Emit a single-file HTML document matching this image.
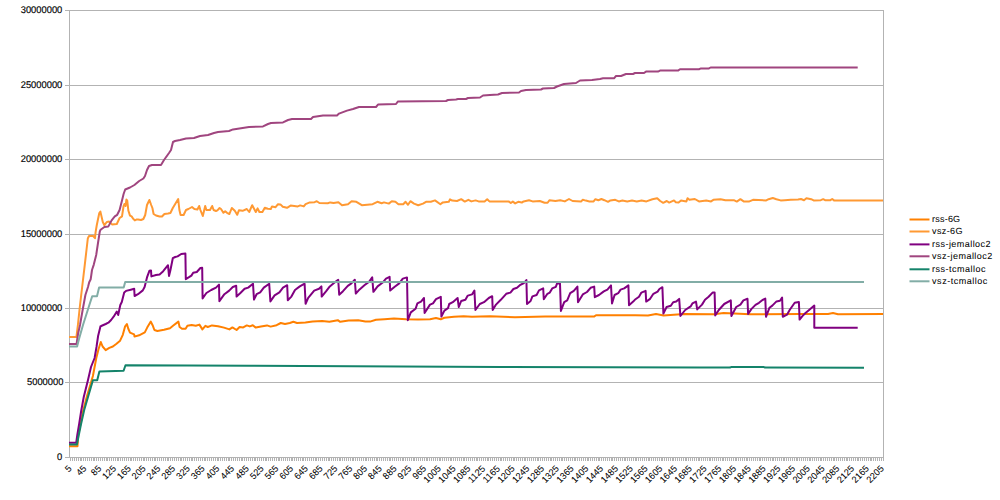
<!DOCTYPE html><html><head><meta charset="utf-8"><title>chart</title><style>html,body{margin:0;padding:0;background:#fff;width:1000px;height:500px;overflow:hidden}svg{display:block}text{font-family:"Liberation Sans", "DejaVu Sans", sans-serif;fill:#000;text-rendering:geometricPrecision}</style></head><body>
<svg width="1000" height="500" viewBox="0 0 1000 500" shape-rendering="crispEdges">
<rect x="0" y="0" width="1000" height="500" fill="#fff"/>
<rect x="65" y="10" width="819" height="1" fill="#b3b3b3"/>
<rect x="65" y="85" width="819" height="1" fill="#b3b3b3"/>
<rect x="65" y="159" width="819" height="1" fill="#b3b3b3"/>
<rect x="65" y="234" width="819" height="1" fill="#b3b3b3"/>
<rect x="65" y="308" width="819" height="1" fill="#b3b3b3"/>
<rect x="65" y="382" width="819" height="1" fill="#b3b3b3"/>
<rect x="65" y="457" width="819" height="1" fill="#b3b3b3"/>
<rect x="69" y="10" width="1" height="448" fill="#b3b3b3"/>
<rect x="883" y="10" width="1" height="451" fill="#b3b3b3"/>
<path d="M70 458h1v3h-1zM72 458h1v3h-1zM74 458h1v3h-1zM76 458h1v3h-1zM78 458h1v3h-1zM80 458h1v3h-1zM81 458h1v3h-1zM83 458h1v3h-1zM85 458h1v3h-1zM87 458h1v3h-1zM89 458h1v3h-1zM91 458h1v3h-1zM93 458h1v3h-1zM94 458h1v3h-1zM96 458h1v3h-1zM98 458h1v3h-1zM100 458h1v3h-1zM102 458h1v3h-1zM104 458h1v3h-1zM106 458h1v3h-1zM107 458h1v3h-1zM109 458h1v3h-1zM111 458h1v3h-1zM113 458h1v3h-1zM115 458h1v3h-1zM117 458h1v3h-1zM118 458h1v3h-1zM120 458h1v3h-1zM122 458h1v3h-1zM124 458h1v3h-1zM126 458h1v3h-1zM128 458h1v3h-1zM130 458h1v3h-1zM131 458h1v3h-1zM133 458h1v3h-1zM135 458h1v3h-1zM137 458h1v3h-1zM139 458h1v3h-1zM141 458h1v3h-1zM143 458h1v3h-1zM144 458h1v3h-1zM146 458h1v3h-1zM148 458h1v3h-1zM150 458h1v3h-1zM152 458h1v3h-1zM154 458h1v3h-1zM155 458h1v3h-1zM157 458h1v3h-1zM159 458h1v3h-1zM161 458h1v3h-1zM163 458h1v3h-1zM165 458h1v3h-1zM167 458h1v3h-1zM168 458h1v3h-1zM170 458h1v3h-1zM172 458h1v3h-1zM174 458h1v3h-1zM176 458h1v3h-1zM178 458h1v3h-1zM180 458h1v3h-1zM181 458h1v3h-1zM183 458h1v3h-1zM185 458h1v3h-1zM187 458h1v3h-1zM189 458h1v3h-1zM191 458h1v3h-1zM192 458h1v3h-1zM194 458h1v3h-1zM196 458h1v3h-1zM198 458h1v3h-1zM200 458h1v3h-1zM202 458h1v3h-1zM204 458h1v3h-1zM205 458h1v3h-1zM207 458h1v3h-1zM209 458h1v3h-1zM211 458h1v3h-1zM213 458h1v3h-1zM215 458h1v3h-1zM217 458h1v3h-1zM218 458h1v3h-1zM220 458h1v3h-1zM222 458h1v3h-1zM224 458h1v3h-1zM226 458h1v3h-1zM228 458h1v3h-1zM229 458h1v3h-1zM231 458h1v3h-1zM233 458h1v3h-1zM235 458h1v3h-1zM237 458h1v3h-1zM239 458h1v3h-1zM241 458h1v3h-1zM242 458h1v3h-1zM244 458h1v3h-1zM246 458h1v3h-1zM248 458h1v3h-1zM250 458h1v3h-1zM252 458h1v3h-1zM254 458h1v3h-1zM255 458h1v3h-1zM257 458h1v3h-1zM259 458h1v3h-1zM261 458h1v3h-1zM263 458h1v3h-1zM265 458h1v3h-1zM266 458h1v3h-1zM268 458h1v3h-1zM270 458h1v3h-1zM272 458h1v3h-1zM274 458h1v3h-1zM276 458h1v3h-1zM278 458h1v3h-1zM279 458h1v3h-1zM281 458h1v3h-1zM283 458h1v3h-1zM285 458h1v3h-1zM287 458h1v3h-1zM289 458h1v3h-1zM291 458h1v3h-1zM292 458h1v3h-1zM294 458h1v3h-1zM296 458h1v3h-1zM298 458h1v3h-1zM300 458h1v3h-1zM302 458h1v3h-1zM303 458h1v3h-1zM305 458h1v3h-1zM307 458h1v3h-1zM309 458h1v3h-1zM311 458h1v3h-1zM313 458h1v3h-1zM315 458h1v3h-1zM316 458h1v3h-1zM318 458h1v3h-1zM320 458h1v3h-1zM322 458h1v3h-1zM324 458h1v3h-1zM326 458h1v3h-1zM328 458h1v3h-1zM329 458h1v3h-1zM331 458h1v3h-1zM333 458h1v3h-1zM335 458h1v3h-1zM337 458h1v3h-1zM339 458h1v3h-1zM340 458h1v3h-1zM342 458h1v3h-1zM344 458h1v3h-1zM346 458h1v3h-1zM348 458h1v3h-1zM350 458h1v3h-1zM352 458h1v3h-1zM353 458h1v3h-1zM355 458h1v3h-1zM357 458h1v3h-1zM359 458h1v3h-1zM361 458h1v3h-1zM363 458h1v3h-1zM365 458h1v3h-1zM366 458h1v3h-1zM368 458h1v3h-1zM370 458h1v3h-1zM372 458h1v3h-1zM374 458h1v3h-1zM376 458h1v3h-1zM377 458h1v3h-1zM379 458h1v3h-1zM381 458h1v3h-1zM383 458h1v3h-1zM385 458h1v3h-1zM387 458h1v3h-1zM389 458h1v3h-1zM390 458h1v3h-1zM392 458h1v3h-1zM394 458h1v3h-1zM396 458h1v3h-1zM398 458h1v3h-1zM400 458h1v3h-1zM402 458h1v3h-1zM403 458h1v3h-1zM405 458h1v3h-1zM407 458h1v3h-1zM409 458h1v3h-1zM411 458h1v3h-1zM413 458h1v3h-1zM414 458h1v3h-1zM416 458h1v3h-1zM418 458h1v3h-1zM420 458h1v3h-1zM422 458h1v3h-1zM424 458h1v3h-1zM426 458h1v3h-1zM427 458h1v3h-1zM429 458h1v3h-1zM431 458h1v3h-1zM433 458h1v3h-1zM435 458h1v3h-1zM437 458h1v3h-1zM439 458h1v3h-1zM440 458h1v3h-1zM442 458h1v3h-1zM444 458h1v3h-1zM446 458h1v3h-1zM448 458h1v3h-1zM450 458h1v3h-1zM451 458h1v3h-1zM453 458h1v3h-1zM455 458h1v3h-1zM457 458h1v3h-1zM459 458h1v3h-1zM461 458h1v3h-1zM463 458h1v3h-1zM464 458h1v3h-1zM466 458h1v3h-1zM468 458h1v3h-1zM470 458h1v3h-1zM472 458h1v3h-1zM474 458h1v3h-1zM476 458h1v3h-1zM477 458h1v3h-1zM479 458h1v3h-1zM481 458h1v3h-1zM483 458h1v3h-1zM485 458h1v3h-1zM487 458h1v3h-1zM488 458h1v3h-1zM490 458h1v3h-1zM492 458h1v3h-1zM494 458h1v3h-1zM496 458h1v3h-1zM498 458h1v3h-1zM500 458h1v3h-1zM501 458h1v3h-1zM503 458h1v3h-1zM505 458h1v3h-1zM507 458h1v3h-1zM509 458h1v3h-1zM511 458h1v3h-1zM513 458h1v3h-1zM514 458h1v3h-1zM516 458h1v3h-1zM518 458h1v3h-1zM520 458h1v3h-1zM522 458h1v3h-1zM524 458h1v3h-1zM525 458h1v3h-1zM527 458h1v3h-1zM529 458h1v3h-1zM531 458h1v3h-1zM533 458h1v3h-1zM535 458h1v3h-1zM537 458h1v3h-1zM538 458h1v3h-1zM540 458h1v3h-1zM542 458h1v3h-1zM544 458h1v3h-1zM546 458h1v3h-1zM548 458h1v3h-1zM550 458h1v3h-1zM551 458h1v3h-1zM553 458h1v3h-1zM555 458h1v3h-1zM557 458h1v3h-1zM559 458h1v3h-1zM561 458h1v3h-1zM562 458h1v3h-1zM564 458h1v3h-1zM566 458h1v3h-1zM568 458h1v3h-1zM570 458h1v3h-1zM572 458h1v3h-1zM574 458h1v3h-1zM575 458h1v3h-1zM577 458h1v3h-1zM579 458h1v3h-1zM581 458h1v3h-1zM583 458h1v3h-1zM585 458h1v3h-1zM587 458h1v3h-1zM588 458h1v3h-1zM590 458h1v3h-1zM592 458h1v3h-1zM594 458h1v3h-1zM596 458h1v3h-1zM598 458h1v3h-1zM599 458h1v3h-1zM601 458h1v3h-1zM603 458h1v3h-1zM605 458h1v3h-1zM607 458h1v3h-1zM609 458h1v3h-1zM611 458h1v3h-1zM612 458h1v3h-1zM614 458h1v3h-1zM616 458h1v3h-1zM618 458h1v3h-1zM620 458h1v3h-1zM622 458h1v3h-1zM624 458h1v3h-1zM625 458h1v3h-1zM627 458h1v3h-1zM629 458h1v3h-1zM631 458h1v3h-1zM633 458h1v3h-1zM635 458h1v3h-1zM636 458h1v3h-1zM638 458h1v3h-1zM640 458h1v3h-1zM642 458h1v3h-1zM644 458h1v3h-1zM646 458h1v3h-1zM648 458h1v3h-1zM649 458h1v3h-1zM651 458h1v3h-1zM653 458h1v3h-1zM655 458h1v3h-1zM657 458h1v3h-1zM659 458h1v3h-1zM661 458h1v3h-1zM662 458h1v3h-1zM664 458h1v3h-1zM666 458h1v3h-1zM668 458h1v3h-1zM670 458h1v3h-1zM672 458h1v3h-1zM673 458h1v3h-1zM675 458h1v3h-1zM677 458h1v3h-1zM679 458h1v3h-1zM681 458h1v3h-1zM683 458h1v3h-1zM685 458h1v3h-1zM686 458h1v3h-1zM688 458h1v3h-1zM690 458h1v3h-1zM692 458h1v3h-1zM694 458h1v3h-1zM696 458h1v3h-1zM698 458h1v3h-1zM699 458h1v3h-1zM701 458h1v3h-1zM703 458h1v3h-1zM705 458h1v3h-1zM707 458h1v3h-1zM709 458h1v3h-1zM710 458h1v3h-1zM712 458h1v3h-1zM714 458h1v3h-1zM716 458h1v3h-1zM718 458h1v3h-1zM720 458h1v3h-1zM722 458h1v3h-1zM723 458h1v3h-1zM725 458h1v3h-1zM727 458h1v3h-1zM729 458h1v3h-1zM731 458h1v3h-1zM733 458h1v3h-1zM735 458h1v3h-1zM736 458h1v3h-1zM738 458h1v3h-1zM740 458h1v3h-1zM742 458h1v3h-1zM744 458h1v3h-1zM746 458h1v3h-1zM747 458h1v3h-1zM749 458h1v3h-1zM751 458h1v3h-1zM753 458h1v3h-1zM755 458h1v3h-1zM757 458h1v3h-1zM759 458h1v3h-1zM760 458h1v3h-1zM762 458h1v3h-1zM764 458h1v3h-1zM766 458h1v3h-1zM768 458h1v3h-1zM770 458h1v3h-1zM772 458h1v3h-1zM773 458h1v3h-1zM775 458h1v3h-1zM777 458h1v3h-1zM779 458h1v3h-1zM781 458h1v3h-1zM783 458h1v3h-1zM784 458h1v3h-1zM786 458h1v3h-1zM788 458h1v3h-1zM790 458h1v3h-1zM792 458h1v3h-1zM794 458h1v3h-1zM796 458h1v3h-1zM797 458h1v3h-1zM799 458h1v3h-1zM801 458h1v3h-1zM803 458h1v3h-1zM805 458h1v3h-1zM807 458h1v3h-1zM809 458h1v3h-1zM810 458h1v3h-1zM812 458h1v3h-1zM814 458h1v3h-1zM816 458h1v3h-1zM818 458h1v3h-1zM820 458h1v3h-1zM821 458h1v3h-1zM823 458h1v3h-1zM825 458h1v3h-1zM827 458h1v3h-1zM829 458h1v3h-1zM831 458h1v3h-1zM833 458h1v3h-1zM834 458h1v3h-1zM836 458h1v3h-1zM838 458h1v3h-1zM840 458h1v3h-1zM842 458h1v3h-1zM844 458h1v3h-1zM846 458h1v3h-1zM847 458h1v3h-1zM849 458h1v3h-1zM851 458h1v3h-1zM853 458h1v3h-1zM855 458h1v3h-1zM857 458h1v3h-1zM858 458h1v3h-1zM860 458h1v3h-1zM862 458h1v3h-1zM864 458h1v3h-1zM866 458h1v3h-1zM868 458h1v3h-1zM870 458h1v3h-1zM871 458h1v3h-1zM873 458h1v3h-1zM875 458h1v3h-1zM877 458h1v3h-1zM879 458h1v3h-1zM881 458h1v3h-1z" fill="#b3b3b3"/>
<text x="62.3" y="13.0" font-size="9.7" text-anchor="end" textLength="41.60" lengthAdjust="spacingAndGlyphs" stroke="#000" stroke-width="0.15">30000000</text>
<text x="62.3" y="88.0" font-size="9.7" text-anchor="end" textLength="41.60" lengthAdjust="spacingAndGlyphs" stroke="#000" stroke-width="0.15">25000000</text>
<text x="62.3" y="162.0" font-size="9.7" text-anchor="end" textLength="41.60" lengthAdjust="spacingAndGlyphs" stroke="#000" stroke-width="0.15">20000000</text>
<text x="62.3" y="237.0" font-size="9.7" text-anchor="end" textLength="41.60" lengthAdjust="spacingAndGlyphs" stroke="#000" stroke-width="0.15">15000000</text>
<text x="62.3" y="311.0" font-size="9.7" text-anchor="end" textLength="41.60" lengthAdjust="spacingAndGlyphs" stroke="#000" stroke-width="0.15">10000000</text>
<text x="63.4" y="385.0" font-size="9.7" text-anchor="end" textLength="36.40" lengthAdjust="spacingAndGlyphs" stroke="#000" stroke-width="0.15">5000000</text>
<text x="62.3" y="460.0" font-size="9.7" text-anchor="end" textLength="5.20" lengthAdjust="spacingAndGlyphs" stroke="#000" stroke-width="0.15">0</text>
<g font-size="9.4" text-anchor="end" stroke="#000" stroke-width="0.05">
<text transform="translate(72.40,469.3) rotate(-45)" textLength="5.00" lengthAdjust="spacingAndGlyphs">5</text>
<text transform="translate(87.16,469.3) rotate(-45)" textLength="10.00" lengthAdjust="spacingAndGlyphs">45</text>
<text transform="translate(101.93,469.3) rotate(-45)" textLength="10.00" lengthAdjust="spacingAndGlyphs">85</text>
<text transform="translate(116.69,469.3) rotate(-45)" textLength="15.00" lengthAdjust="spacingAndGlyphs">125</text>
<text transform="translate(131.46,469.3) rotate(-45)" textLength="15.00" lengthAdjust="spacingAndGlyphs">165</text>
<text transform="translate(146.22,469.3) rotate(-45)" textLength="15.00" lengthAdjust="spacingAndGlyphs">205</text>
<text transform="translate(160.98,469.3) rotate(-45)" textLength="15.00" lengthAdjust="spacingAndGlyphs">245</text>
<text transform="translate(175.75,469.3) rotate(-45)" textLength="15.00" lengthAdjust="spacingAndGlyphs">285</text>
<text transform="translate(190.51,469.3) rotate(-45)" textLength="15.00" lengthAdjust="spacingAndGlyphs">325</text>
<text transform="translate(205.28,469.3) rotate(-45)" textLength="15.00" lengthAdjust="spacingAndGlyphs">365</text>
<text transform="translate(220.04,469.3) rotate(-45)" textLength="15.00" lengthAdjust="spacingAndGlyphs">405</text>
<text transform="translate(234.80,469.3) rotate(-45)" textLength="15.00" lengthAdjust="spacingAndGlyphs">445</text>
<text transform="translate(249.57,469.3) rotate(-45)" textLength="15.00" lengthAdjust="spacingAndGlyphs">485</text>
<text transform="translate(264.33,469.3) rotate(-45)" textLength="15.00" lengthAdjust="spacingAndGlyphs">525</text>
<text transform="translate(279.10,469.3) rotate(-45)" textLength="15.00" lengthAdjust="spacingAndGlyphs">565</text>
<text transform="translate(293.86,469.3) rotate(-45)" textLength="15.00" lengthAdjust="spacingAndGlyphs">605</text>
<text transform="translate(308.62,469.3) rotate(-45)" textLength="15.00" lengthAdjust="spacingAndGlyphs">645</text>
<text transform="translate(323.39,469.3) rotate(-45)" textLength="15.00" lengthAdjust="spacingAndGlyphs">685</text>
<text transform="translate(338.15,469.3) rotate(-45)" textLength="15.00" lengthAdjust="spacingAndGlyphs">725</text>
<text transform="translate(352.92,469.3) rotate(-45)" textLength="15.00" lengthAdjust="spacingAndGlyphs">765</text>
<text transform="translate(367.68,469.3) rotate(-45)" textLength="15.00" lengthAdjust="spacingAndGlyphs">805</text>
<text transform="translate(382.44,469.3) rotate(-45)" textLength="15.00" lengthAdjust="spacingAndGlyphs">845</text>
<text transform="translate(397.21,469.3) rotate(-45)" textLength="15.00" lengthAdjust="spacingAndGlyphs">885</text>
<text transform="translate(411.97,469.3) rotate(-45)" textLength="15.00" lengthAdjust="spacingAndGlyphs">925</text>
<text transform="translate(426.74,469.3) rotate(-45)" textLength="15.00" lengthAdjust="spacingAndGlyphs">965</text>
<text transform="translate(441.50,469.3) rotate(-45)" textLength="20.00" lengthAdjust="spacingAndGlyphs">1005</text>
<text transform="translate(456.26,469.3) rotate(-45)" textLength="20.00" lengthAdjust="spacingAndGlyphs">1045</text>
<text transform="translate(471.03,469.3) rotate(-45)" textLength="20.00" lengthAdjust="spacingAndGlyphs">1085</text>
<text transform="translate(485.79,469.3) rotate(-45)" textLength="20.00" lengthAdjust="spacingAndGlyphs">1125</text>
<text transform="translate(500.56,469.3) rotate(-45)" textLength="20.00" lengthAdjust="spacingAndGlyphs">1165</text>
<text transform="translate(515.32,469.3) rotate(-45)" textLength="20.00" lengthAdjust="spacingAndGlyphs">1205</text>
<text transform="translate(530.08,469.3) rotate(-45)" textLength="20.00" lengthAdjust="spacingAndGlyphs">1245</text>
<text transform="translate(544.85,469.3) rotate(-45)" textLength="20.00" lengthAdjust="spacingAndGlyphs">1285</text>
<text transform="translate(559.61,469.3) rotate(-45)" textLength="20.00" lengthAdjust="spacingAndGlyphs">1325</text>
<text transform="translate(574.38,469.3) rotate(-45)" textLength="20.00" lengthAdjust="spacingAndGlyphs">1365</text>
<text transform="translate(589.14,469.3) rotate(-45)" textLength="20.00" lengthAdjust="spacingAndGlyphs">1405</text>
<text transform="translate(603.90,469.3) rotate(-45)" textLength="20.00" lengthAdjust="spacingAndGlyphs">1445</text>
<text transform="translate(618.67,469.3) rotate(-45)" textLength="20.00" lengthAdjust="spacingAndGlyphs">1485</text>
<text transform="translate(633.43,469.3) rotate(-45)" textLength="20.00" lengthAdjust="spacingAndGlyphs">1525</text>
<text transform="translate(648.20,469.3) rotate(-45)" textLength="20.00" lengthAdjust="spacingAndGlyphs">1565</text>
<text transform="translate(662.96,469.3) rotate(-45)" textLength="20.00" lengthAdjust="spacingAndGlyphs">1605</text>
<text transform="translate(677.72,469.3) rotate(-45)" textLength="20.00" lengthAdjust="spacingAndGlyphs">1645</text>
<text transform="translate(692.49,469.3) rotate(-45)" textLength="20.00" lengthAdjust="spacingAndGlyphs">1685</text>
<text transform="translate(707.25,469.3) rotate(-45)" textLength="20.00" lengthAdjust="spacingAndGlyphs">1725</text>
<text transform="translate(722.02,469.3) rotate(-45)" textLength="20.00" lengthAdjust="spacingAndGlyphs">1765</text>
<text transform="translate(736.78,469.3) rotate(-45)" textLength="20.00" lengthAdjust="spacingAndGlyphs">1805</text>
<text transform="translate(751.54,469.3) rotate(-45)" textLength="20.00" lengthAdjust="spacingAndGlyphs">1845</text>
<text transform="translate(766.31,469.3) rotate(-45)" textLength="20.00" lengthAdjust="spacingAndGlyphs">1885</text>
<text transform="translate(781.07,469.3) rotate(-45)" textLength="20.00" lengthAdjust="spacingAndGlyphs">1925</text>
<text transform="translate(795.84,469.3) rotate(-45)" textLength="20.00" lengthAdjust="spacingAndGlyphs">1965</text>
<text transform="translate(810.60,469.3) rotate(-45)" textLength="20.00" lengthAdjust="spacingAndGlyphs">2005</text>
<text transform="translate(825.36,469.3) rotate(-45)" textLength="20.00" lengthAdjust="spacingAndGlyphs">2045</text>
<text transform="translate(840.13,469.3) rotate(-45)" textLength="20.00" lengthAdjust="spacingAndGlyphs">2085</text>
<text transform="translate(854.89,469.3) rotate(-45)" textLength="20.00" lengthAdjust="spacingAndGlyphs">2125</text>
<text transform="translate(869.66,469.3) rotate(-45)" textLength="20.00" lengthAdjust="spacingAndGlyphs">2165</text>
<text transform="translate(884.42,469.3) rotate(-45)" textLength="20.00" lengthAdjust="spacingAndGlyphs">2205</text>
</g>
<g fill="none" stroke-width="2.0" stroke-linejoin="round" stroke-linecap="butt" shape-rendering="auto">
<polyline stroke="#ff8000" points="69.0,446.2 77.5,446.2 78.2,435.0 80.5,423.7 82.8,412.0 87.0,396.0 92.9,376.0 96.3,358.0 98.5,349.2 100.8,342.0 102.6,346.5 105.7,350.1 109.3,347.9 112.9,346.5 116.5,343.8 120.1,340.7 122.8,334.8 125.0,326.7 126.9,324.0 128.2,328.5 130.0,332.6 134.1,334.4 134.5,336.6 139.1,335.3 144.8,332.4 147.2,327.6 150.8,321.6 152.6,325.2 154.4,330.0 157.4,331.0 164.0,329.8 170.0,328.2 173.0,325.8 178.4,321.6 179.6,327.0 182.0,328.8 185.6,328.8 187.4,325.8 191.6,325.0 195.8,325.8 199.4,324.6 202.4,329.4 205.4,325.8 207.8,327.0 212.0,325.4 218.0,326.2 224.0,327.6 229.4,329.4 232.4,327.4 236.6,330.0 239.6,327.0 243.2,327.4 246.8,325.4 249.8,326.4 252.8,325.2 255.8,327.6 261.0,326.6 267.0,325.4 270.6,326.6 276.6,325.2 280.8,323.0 285.0,324.0 289.8,323.0 293.4,321.8 297.0,323.0 305.4,322.6 312.6,321.6 322.2,321.0 329.4,321.8 337.8,320.2 340.2,321.8 348.6,320.6 358.2,320.2 365.4,321.4 370.0,321.6 376.0,319.8 384.4,319.2 394.0,318.6 406.0,319.2 418.0,319.4 430.0,319.2 436.0,318.0 440.8,319.2 444.4,317.8 454.0,316.8 463.6,316.2 472.0,316.8 480.4,316.6 490.0,316.2 515.0,317.2 545.0,316.6 560.0,316.4 575.0,316.6 594.0,316.6 596.0,315.2 617.0,315.2 635.0,315.2 648.0,315.4 656.0,314.0 663.6,315.4 684.0,314.0 714.0,314.2 723.6,313.0 750.0,314.2 800.0,314.0 828.0,314.0 833.0,313.0 838.0,314.2 883.0,314.0"/>
<polyline stroke="#ff9933" points="69.0,337.1 76.4,337.1 77.9,325.0 79.7,308.0 81.2,295.0 82.4,285.0 84.8,264.6 86.6,249.0 87.8,238.5 89.0,236.0 93.2,236.0 95.0,238.2 95.6,232.2 96.8,225.0 99.3,213.0 100.4,211.6 102.8,222.0 104.4,225.2 106.8,222.0 109.2,221.6 112.0,224.4 116.8,224.0 119.6,218.0 122.0,216.4 123.6,206.0 124.4,204.0 125.6,206.0 126.4,199.6 127.2,200.4 128.4,210.8 130.0,215.6 131.6,216.4 133.2,218.8 134.8,220.4 136.4,219.6 138.0,219.6 141.0,220.0 143.4,219.0 145.2,215.0 147.0,205.0 149.4,200.0 151.2,205.0 152.4,208.0 153.6,214.0 156.0,215.5 159.6,216.5 162.0,216.5 164.4,214.0 168.0,213.5 170.4,213.0 172.8,208.0 175.2,204.0 178.2,199.0 179.4,210.0 180.6,215.0 183.6,215.0 186.0,210.0 188.4,209.0 192.0,207.0 194.4,209.0 197.4,209.5 199.2,206.0 200.4,210.0 202.8,216.0 205.2,206.0 206.4,210.0 210.0,210.0 212.2,206.0 213.6,210.0 216.0,211.0 217.4,210.4 219.6,208.0 221.0,209.0 223.4,212.8 225.2,211.2 227.0,212.8 229.4,214.0 231.8,208.0 234.8,210.8 237.2,214.8 239.0,210.2 242.6,210.8 246.8,209.0 249.2,212.0 252.2,205.2 255.8,212.0 257.6,208.4 259.4,212.0 262.4,212.0 264.8,207.8 267.8,208.8 270.8,209.0 272.0,206.4 275.6,207.2 278.0,204.2 280.4,204.4 282.8,206.8 287.0,207.8 290.6,205.6 294.2,206.0 297.8,206.4 300.2,205.4 303.8,206.4 305.6,204.2 309.8,202.4 314.6,202.2 316.8,201.2 319.4,203.0 327.8,203.2 330.2,202.4 333.6,203.0 338.4,202.2 342.0,205.2 348.0,204.2 351.6,201.2 356.4,201.8 361.8,205.2 372.6,204.2 377.4,201.8 381.6,203.2 384.0,202.4 388.8,203.6 391.8,201.2 395.4,201.8 398.4,204.2 403.2,204.2 405.6,201.8 408.0,204.8 410.4,201.2 414.0,203.6 418.2,205.2 423.0,203.6 426.0,201.8 430.8,201.8 435.0,200.4 440.4,204.2 442.8,202.4 448.8,201.8 450.0,199.4 452.2,200.6 457.0,201.0 461.2,199.2 464.8,201.6 468.4,199.8 471.4,201.4 475.6,200.4 478.6,201.4 484.6,201.4 487.2,199.2 489.4,201.4 508.6,201.4 510.8,203.0 512.8,201.6 515.2,203.4 518.2,201.8 521.8,202.6 523.6,201.4 529.0,200.2 532.6,201.4 539.8,201.0 544.6,202.8 547.6,202.8 549.4,200.2 555.4,201.0 560.2,200.2 564.8,201.4 569.0,199.0 572.6,201.0 581.0,201.6 582.8,199.8 585.8,200.6 589.4,201.4 593.6,201.4 595.4,199.2 598.4,200.2 601.4,199.0 604.4,200.2 608.0,201.8 610.4,200.4 615.2,199.8 618.8,201.4 622.4,200.6 627.2,201.4 632.0,200.6 636.8,201.4 641.6,200.6 646.4,201.4 652.4,199.2 657.2,198.2 660.2,201.0 663.2,202.8 666.8,201.0 669.2,202.6 674.0,200.4 675.8,202.2 678.6,202.6 681.0,200.6 686.4,201.4 687.6,198.2 689.4,199.8 694.8,199.0 699.0,201.4 706.2,200.6 711.0,201.4 713.4,199.8 720.6,199.2 725.4,200.2 733.8,200.2 736.8,201.6 740.4,199.2 744.0,201.6 748.8,201.6 753.0,199.8 766.2,200.4 768.6,199.2 772.8,198.0 776.4,199.2 780.6,200.4 784.8,200.2 790.8,199.8 798.0,199.4 801.0,199.0 804.0,200.2 806.4,198.2 811.2,199.2 813.6,200.4 820.8,200.2 823.2,199.2 825.0,200.2 830.4,200.2 832.2,199.0 834.0,200.4 883.0,200.4"/>
<polyline stroke="#800080" points="69.0,442.8 76.2,442.8 77.3,435.0 79.2,423.7 81.1,411.5 83.7,397.2 88.0,380.0 91.0,367.0 94.6,358.0 96.5,347.0 98.1,336.0 100.5,326.2 101.2,326.0 105.7,324.0 108.4,322.7 111.1,320.0 113.8,316.4 116.8,311.5 118.2,315.0 120.3,305.0 121.8,302.0 124.2,292.4 126.0,290.9 130.8,289.7 134.2,288.8 134.6,296.0 138.0,294.2 142.8,290.4 144.6,287.0 147.0,277.4 149.4,270.8 151.0,270.4 151.4,276.4 156.0,275.0 159.6,274.4 163.2,271.2 168.0,265.2 169.0,276.0 170.4,270.2 172.8,258.2 175.2,257.0 177.6,256.4 181.2,254.0 185.4,253.6 185.8,279.2 189.0,277.2 191.4,275.6 193.2,272.8 196.8,272.0 200.4,268.0 202.2,267.8 202.6,298.4 206.4,293.0 211.2,290.0 216.0,287.6 219.0,284.6 219.4,301.2 224.4,294.2 229.2,290.6 232.8,287.0 236.2,285.8 236.6,296.6 240.4,293.0 244.6,288.8 248.2,287.6 253.0,283.7 254.0,299.6 256.6,294.2 260.2,292.4 263.8,287.6 269.2,283.7 270.4,301.4 274.6,295.4 279.4,292.4 283.0,287.6 287.2,285.2 287.8,300.2 291.4,296.6 295.0,290.0 299.8,286.4 304.6,283.7 305.6,303.8 308.2,297.8 314.2,290.6 319.0,288.8 321.4,286.4 321.7,296.6 326.2,291.2 329.8,286.4 333.4,283.4 338.2,279.8 339.2,294.8 343.0,291.2 347.8,285.8 351.4,283.4 354.8,279.8 355.8,293.6 359.6,289.4 364.4,285.2 369.2,281.6 372.2,277.4 373.4,291.8 377.6,286.4 382.4,282.8 386.0,278.6 389.6,276.8 390.2,290.6 394.4,287.0 399.2,283.4 402.8,278.6 407.0,277.4 407.8,320.2 410.8,312.4 415.6,308.8 417.4,303.4 421.0,301.6 424.0,298.0 424.6,313.0 430.0,304.6 433.0,303.4 436.0,299.2 440.8,296.8 441.4,316.6 444.4,310.6 448.0,308.2 449.2,304.0 452.8,302.2 457.6,298.0 458.8,307.0 461.2,301.0 465.4,299.8 467.8,295.6 472.0,294.4 474.4,290.5 475.4,310.0 479.8,304.0 484.0,302.2 488.8,298.0 492.2,296.2 492.7,310.0 496.0,304.6 500.8,299.8 506.2,293.8 510.4,292.6 513.4,289.0 517.0,287.8 520.4,284.8 524.0,283.0 526.4,280.0 527.0,304.0 530.6,301.0 532.4,296.4 536.6,295.0 539.0,290.4 543.2,288.4 543.8,299.2 547.4,293.8 549.8,292.6 552.2,288.4 555.8,286.8 557.0,283.6 560.0,283.6 560.9,310.9 564.2,302.2 567.2,300.4 570.2,293.2 573.8,290.8 577.4,286.6 578.0,302.2 582.8,294.4 587.0,292.0 590.6,287.8 594.2,286.6 594.8,297.2 599.0,295.0 603.8,291.4 607.4,289.6 611.0,285.4 612.0,303.4 614.6,295.0 618.2,293.2 620.6,289.6 624.2,288.4 628.4,285.4 629.0,305.2 633.2,301.6 634.8,299.8 639.0,296.8 641.4,292.6 645.6,290.8 646.2,301.6 649.8,299.2 653.4,293.8 657.6,291.6 659.4,289.0 662.4,287.2 663.4,313.6 666.6,307.0 670.8,305.8 673.2,302.2 676.2,301.6 679.2,298.9 680.4,316.0 685.2,310.0 690.6,306.4 692.4,303.4 696.0,301.6 697.2,309.4 702.0,304.6 705.0,299.8 708.6,296.8 712.8,292.4 714.6,292.4 715.2,315.4 718.8,310.0 724.2,304.0 730.8,300.4 731.4,316.0 736.2,307.0 740.4,304.6 743.4,300.4 747.5,298.8 748.1,314.0 751.3,309.1 755.5,304.9 759.0,302.8 762.5,300.0 765.3,298.6 766.0,316.8 769.5,307.7 772.3,305.6 776.5,301.4 780.0,300.7 782.1,297.5 782.8,316.8 787.0,314.7 789.8,309.8 794.7,302.8 798.9,302.1 799.6,319.6 802.4,316.1 805.2,313.3 809.4,309.8 814.3,305.6 814.3,327.7 857.7,327.7"/>
<polyline stroke="#a0457f" points="69.0,344.0 76.6,344.0 78.0,334.0 80.0,325.0 83.0,308.0 85.4,295.0 88.0,287.0 89.2,282.2 90.7,279.2 91.3,275.0 92.0,270.0 93.8,264.6 96.2,255.0 98.0,243.0 99.8,231.5 100.6,229.8 104.4,227.0 108.4,226.4 111.6,220.4 114.8,216.4 117.2,214.8 119.6,210.0 122.0,200.4 123.6,194.0 125.2,189.5 130.0,187.5 134.4,185.0 139.2,181.0 143.4,178.5 145.0,176.0 147.0,170.0 149.0,166.0 152.0,165.0 161.0,165.0 164.0,160.0 169.0,153.0 171.0,150.0 173.0,142.0 175.0,141.0 180.0,140.0 186.0,138.5 194.0,138.0 200.0,136.0 208.0,135.0 214.0,133.0 218.0,132.0 229.0,131.0 233.0,129.4 249.0,127.0 263.0,126.4 268.0,124.0 271.0,123.0 283.0,122.4 288.0,120.0 292.0,119.0 311.0,119.0 313.0,117.0 323.0,115.4 337.0,115.4 339.0,113.6 347.0,110.6 353.0,109.0 359.0,107.0 376.0,107.0 378.0,104.6 396.0,104.0 398.0,101.4 446.0,101.0 448.0,100.0 456.0,99.5 458.0,99.0 466.0,99.0 468.0,98.0 480.0,97.5 483.0,95.5 490.0,95.0 498.0,94.5 502.0,93.0 519.0,92.5 521.0,91.0 526.0,90.0 541.0,89.5 543.0,88.5 554.0,88.0 557.0,86.5 564.0,84.0 570.0,83.5 576.0,83.0 580.0,80.5 592.0,80.0 600.0,79.0 603.0,78.3 614.0,78.3 616.0,76.0 621.0,76.0 626.0,74.0 633.0,74.0 635.0,73.0 644.0,73.0 646.0,71.6 658.0,71.6 660.0,70.6 678.0,70.6 680.0,69.2 699.0,69.2 701.0,68.4 709.0,68.4 710.6,67.5 857.7,67.4"/>
<polyline stroke="#14836a" points="69.0,444.5 76.9,444.5 78.8,435.0 81.1,423.7 84.2,410.0 88.0,397.0 92.9,380.3 97.2,380.3 99.4,371.6 123.6,370.8 125.5,365.2 250.0,365.7 500.0,367.0 700.0,367.6 730.0,367.6 731.0,367.1 764.0,367.1 765.0,367.6 864.0,367.8"/>
<polyline stroke="#82ada6" points="69.0,346.5 77.1,346.5 79.0,339.0 83.0,325.0 88.4,308.0 90.0,303.0 92.2,296.3 97.0,296.3 99.1,287.6 123.7,287.6 125.2,281.9 864.0,281.9"/>
</g>
<g shape-rendering="auto">
<line x1="909.5" x2="929.5" y1="219.5" y2="219.5" stroke="#ff8000" stroke-width="2.0"/>
<text x="932.1" y="221.7" font-size="9" textLength="28.0" lengthAdjust="spacing" stroke="#000" stroke-width="0.06">rss-6G</text>
<line x1="909.5" x2="929.5" y1="231.5" y2="231.5" stroke="#ff9933" stroke-width="2.0"/>
<text x="932.1" y="233.7" font-size="9" textLength="30.3" lengthAdjust="spacing" stroke="#000" stroke-width="0.06">vsz-6G</text>
<line x1="909.5" x2="929.5" y1="244.4" y2="244.4" stroke="#800080" stroke-width="2.0"/>
<text x="932.1" y="246.6" font-size="9" textLength="58.4" lengthAdjust="spacing" stroke="#000" stroke-width="0.06">rss-jemalloc2</text>
<line x1="909.5" x2="929.5" y1="256.3" y2="256.3" stroke="#a0457f" stroke-width="2.0"/>
<text x="932.1" y="258.5" font-size="9" textLength="60.2" lengthAdjust="spacing" stroke="#000" stroke-width="0.06">vsz-jemalloc2</text>
<line x1="909.5" x2="929.5" y1="269.3" y2="269.3" stroke="#14836a" stroke-width="2.0"/>
<text x="932.1" y="271.5" font-size="9" textLength="53.4" lengthAdjust="spacing" stroke="#000" stroke-width="0.06">rss-tcmalloc</text>
<line x1="909.5" x2="929.5" y1="281.3" y2="281.3" stroke="#82ada6" stroke-width="2.0"/>
<text x="932.1" y="283.5" font-size="9" textLength="55.2" lengthAdjust="spacing" stroke="#000" stroke-width="0.06">vsz-tcmalloc</text>
</g>
</svg></body></html>
